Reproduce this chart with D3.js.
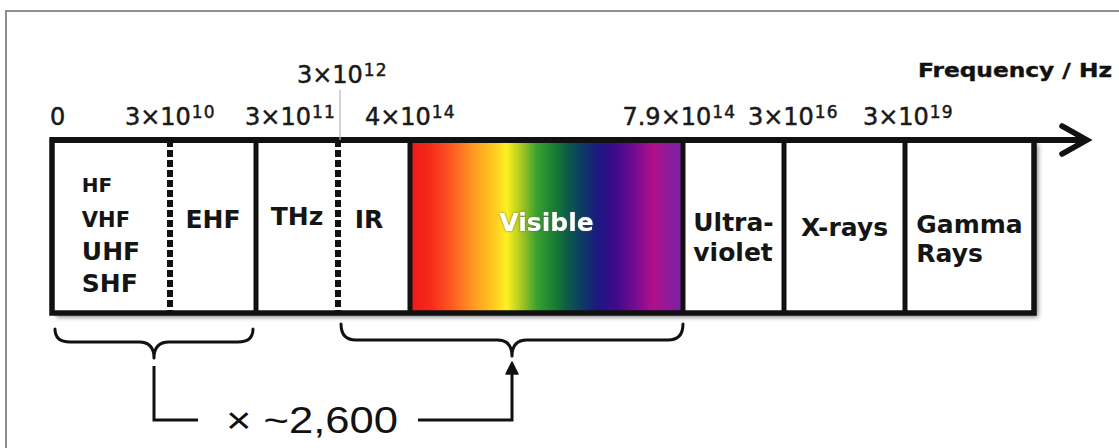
<!DOCTYPE html>
<html><head><meta charset="utf-8">
<script src="https://cdn.jsdelivr.net/npm/d3@7/dist/d3.min.js"></script>
<style>html,body{margin:0;padding:0;background:#fff;overflow:hidden}</style>
</head><body>
<svg id="chart" width="1119" height="448"></svg>
<script>
// ---------------- DATA ----------------
const bands = ["Radio", "EHF", "THz", "IR", "Visible", "Ultraviolet", "X-rays", "Gamma Rays"];
const bandLabelLines = [["HF","VHF","UHF","SHF"],["EHF"],["THz"],["IR"],["Visible"],["Ultra-","violet"],["X-rays"],["Gamma","Rays"]];
const bandWidths = [118, 86, 82, 72, 273, 101, 121, 129];   // relative widths on the diagram
const dashedBoundaries = [1, 3];                             // sub-band boundaries drawn dashed
const tickMantissas = ["0", "3×10", "3×10", "3×10", "4×10", "7.9×10", "3×10", "3×10"];
const tickExponents = ["", "10", "11", "12", "14", "14", "16", "19"];
const axisTitle = "Frequency / Hz";
const ratioLabel = "× ~2,600";
const braceSpans = [[0, 2], [3, 5]];                         // boundary index spans compared
const spectrumColors = ["#f01818","#f52a1a","#ff5522","#ff9922","#ffd020","#fff020","#b0cc20","#3aa030","#1a8030","#0e5c48","#0a4060","#1a1a80","#3a0a8a","#700a90","#b0108a","#8020a0"];
const spectrumStops  = [0, 0.073, 0.147, 0.232, 0.317, 0.354, 0.403, 0.464, 0.525, 0.574, 0.623, 0.684, 0.745, 0.818, 0.891, 0.977];

// ---------------- LAYOUT ----------------
const W = 1119, H = 448;
const yTop = 140, yBot = 313;
const tickLayout = [
  {align:"start", dx:-2, y:125}, {align:"middle", dx:1, y:125}, {align:"start", dx:-11, y:125},
  {align:"middle", dx:5, y:83},  {align:"middle", dx:1, y:125}, {align:"middle", dx:-3, y:125},
  {align:"middle", dx:10, y:125},{align:"middle", dx:4, y:125}
];
const labelLayout = [
  {y:[192,227,260,292], size:[20,21,25,25], dx:0},
  {y:[228], size:[25]}, {y:[225], size:[25]}, {y:[228], size:[25], dx:-5},
  {y:[231], size:[25], white:true}, {y:[231,261], size:[25,25]},
  {y:[236], size:[25]}, {y:[233,262], size:[25,25]}
];

const svg = d3.select("#chart");
const defs = svg.append("defs");
const f = defs.append("filter").attr("id","shadow").attr("x","-5%").attr("y","-10%").attr("width","115%").attr("height","130%");
f.append("feDropShadow").attr("dx",4).attr("dy",4).attr("stdDeviation",2.4).attr("flood-color","#000").attr("flood-opacity",0.5);
const grad = defs.append("linearGradient").attr("id","spectrum").attr("x1","0").attr("x2","1").attr("y1","0").attr("y2","0");
spectrumColors.forEach((c,i)=>grad.append("stop").attr("offset",spectrumStops[i]).attr("stop-color",c));
const halo = defs.append("filter").attr("id","halo").attr("x","-10%").attr("y","-30%").attr("width","120%").attr("height","160%");
halo.append("feDropShadow").attr("dx",0).attr("dy",0).attr("stdDeviation",1.2).attr("flood-color","#555").attr("flood-opacity",0.8);

// scale
const total = d3.sum(bandWidths);
const x = d3.scaleLinear().domain([0, total]).range([52, 1034]);
const bounds = Array.from(d3.cumsum([0, ...bandWidths]));

// outer frame
svg.append("path").attr("d", `M6,${H+10} V11 H${W+10}`).attr("fill","none").attr("stroke","#8e8e8e").attr("stroke-width",2);

// box with shadow
svg.append("rect").attr("x", x(0)).attr("y", yTop).attr("width", x(total)-x(0)).attr("height", yBot-yTop)
  .attr("fill","#fff").attr("filter","url(#shadow)");

// visible spectrum fill
const vi = bands.indexOf("Visible");
svg.append("rect").attr("x", x(bounds[vi])).attr("y", yTop).attr("width", x(bounds[vi+1])-x(bounds[vi])).attr("height", yBot-yTop)
  .attr("fill","url(#spectrum)");

// dividers
svg.selectAll("line.div").data(bounds.slice(1, -1)).join("line").attr("class","div")
  .attr("x1", d=>x(d)).attr("x2", d=>x(d)).attr("y1", yTop).attr("y2", yBot)
  .attr("stroke","#111").attr("stroke-width", (d,i)=> dashedBoundaries.includes(i+1) ? 6 : 5)
  .attr("stroke-dasharray", (d,i)=> dashedBoundaries.includes(i+1) ? "7 3" : null);

// box border
svg.append("rect").attr("x", x(0)).attr("y", yTop).attr("width", x(total)-x(0)).attr("height", yBot-yTop)
  .attr("fill","none").attr("stroke","#111").attr("stroke-width",5.5);

// axis line + arrow
svg.append("line").attr("x1", x(0)-2).attr("x2", 1086).attr("y1", yTop).attr("y2", yTop).attr("stroke","#111").attr("stroke-width",6);
svg.append("path").attr("d", `M1062,126 L1087,${yTop} L1062,154`).attr("fill","none").attr("stroke","#111").attr("stroke-width",5.5)
  .attr("stroke-linecap","round").attr("stroke-linejoin","miter");

// thin leader for raised tick
tickLayout.forEach((t,i)=>{
  if (t.y < 100) svg.append("line").attr("x1", x(bounds[i])+2).attr("x2", x(bounds[i])+2).attr("y1", t.y+7).attr("y2", yTop)
    .attr("stroke","#b5b5b5").attr("stroke-width",1.2);
});

// tick labels
tickMantissas.forEach((m,i)=>{
  const L = tickLayout[i];
  const g = svg.append("g").attr("fill","#1a1a1a").attr("stroke","#1a1a1a").attr("stroke-width",0.5);
  const t1 = g.append("text").attr("x",0).attr("y",0).attr("font-family","DejaVu Sans, Verdana, sans-serif")
    .attr("font-size",24).text(m);
  let w = t1.node().getComputedTextLength();
  if (tickExponents[i]) {
    const t2 = g.append("text").attr("x", w+1).attr("y", -7).attr("font-family","DejaVu Sans, Verdana, sans-serif")
      .attr("font-size",17).attr("letter-spacing",1.2).text(tickExponents[i]);
    w += 1 + t2.node().getComputedTextLength() + 1.2;
  }
  const bx = x(bounds[i]) + L.dx;
  const left = L.align === "start" ? bx : bx - w/2;
  g.attr("transform", `translate(${left},${L.y})`);
});

// axis title
svg.append("text").attr("x", 918).attr("y", 77).attr("font-family","DejaVu Sans, Verdana, sans-serif").attr("font-weight","bold")
  .attr("font-size",20).attr("fill","#111").attr("stroke","#111").attr("stroke-width",0.4)
  .attr("textLength",194).attr("lengthAdjust","spacingAndGlyphs").text(axisTitle);

// band labels
bandLabelLines.forEach((lines,i)=>{
  const L = labelLayout[i];
  const cx = (x(bounds[i]) + x(bounds[i+1]))/2;
  const g = svg.append("g");
  const texts = lines.map((s,j)=> g.append("text").attr("y", L.y[j]).attr("font-family","DejaVu Sans, Verdana, sans-serif")
    .attr("font-weight","bold").attr("font-size", L.size[j]).attr("fill", L.white ? "#fff" : "#151515").text(s));
  const maxW = d3.max(texts, t=>t.node().getComputedTextLength());
  const left = cx - maxW/2 + (L.dx||0);
  texts.forEach(t=>t.attr("x", left));
  if (L.white) g.attr("filter","url(#halo)");
});

// braces
function bracePath(x0, x1, top, mid, tip) {
  const xm = (x0+x1)/2, r = 15;
  return `M${x0},${top} Q${x0},${mid} ${x0+r},${mid} L${xm-r},${mid} Q${xm},${mid} ${xm},${tip} ` +
         `Q${xm},${mid} ${xm+r},${mid} L${x1-r},${mid} Q${x1},${mid} ${x1},${top}`;
}
const braceY = [{top:329, mid:342, tip:358}, {top:324, mid:340, tip:356}];
const tips = braceSpans.map((s,k)=>{
  const x0 = x(bounds[s[0]]) + 3, x1 = x(bounds[s[1]]) - (k===1 ? 0 : 3);
  const b = braceY[k];
  svg.append("path").attr("d", bracePath(x0, x1, b.top, b.mid, b.tip)).attr("fill","none")
    .attr("stroke","#111").attr("stroke-width",3).attr("stroke-linejoin","round").attr("stroke-linecap","round");
  return {x:(x0+x1)/2, y:b.tip};
});

// ratio text and connector
svg.append("text").attr("x", 226).attr("y", 433).attr("font-family","Liberation Sans, Arial, sans-serif")
  .attr("font-size",37).attr("fill","#111").attr("textLength",172).attr("lengthAdjust","spacingAndGlyphs").text(ratioLabel);
const yConn = 420;
svg.append("path").attr("d", `M${tips[0].x},${tips[0].y+8} V${yConn} H198`).attr("fill","none").attr("stroke","#111").attr("stroke-width",3);
svg.append("path").attr("d", `M418,${yConn} H${tips[1].x} V${tips[1].y+14}`).attr("fill","none").attr("stroke","#111").attr("stroke-width",3);
svg.append("path").attr("d", `M${tips[1].x-6},${tips[1].y+18} L${tips[1].x},${tips[1].y+6} L${tips[1].x+6},${tips[1].y+18} Z`).attr("fill","#111").attr("stroke","#111").attr("stroke-width",1.5).attr("stroke-linejoin","round");
</script>
</body></html>
